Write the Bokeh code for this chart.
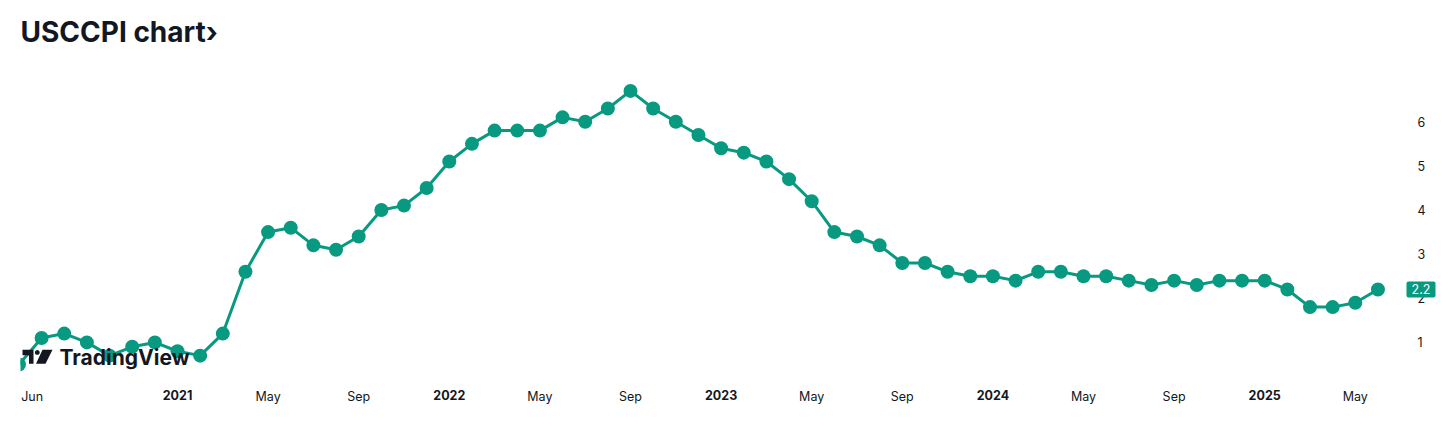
import math
from bokeh.plotting import figure
from bokeh.models import (Range1d, FixedTicker, Label, PolyAnnotation, BoxAnnotation,
                          LinearAxis)
from bokeh.embed import file_html
from bokeh.resources import INLINE

# ---------------- data ----------------
TITLE = "USCCPI chart\u203a"
months = ["2020-06", "2020-07", "2020-08", "2020-09", "2020-10", "2020-11", "2020-12",
          "2021-01", "2021-02", "2021-03", "2021-04", "2021-05", "2021-06", "2021-07",
          "2021-08", "2021-09", "2021-10", "2021-11", "2021-12", "2022-01", "2022-02",
          "2022-03", "2022-04", "2022-05", "2022-06", "2022-07", "2022-08", "2022-09",
          "2022-10", "2022-11", "2022-12", "2023-01", "2023-02", "2023-03", "2023-04",
          "2023-05", "2023-06", "2023-07", "2023-08", "2023-09", "2023-10", "2023-11",
          "2023-12", "2024-01", "2024-02", "2024-03", "2024-04", "2024-05", "2024-06",
          "2024-07", "2024-08", "2024-09", "2024-10", "2024-11", "2024-12", "2025-01",
          "2025-02", "2025-03", "2025-04", "2025-05", "2025-06"]
cpi_values = [0.5, 1.1, 1.2, 1.0, 0.7, 0.9, 1.0, 0.8, 0.7, 1.2,
              2.6, 3.5, 3.6, 3.2, 3.1, 3.4, 4.0, 4.1, 4.5, 5.1,
              5.5, 5.8, 5.8, 5.8, 6.1, 6.0, 6.3, 6.7, 6.3, 6.0,
              5.7, 5.4, 5.3, 5.1, 4.7, 4.2, 3.5, 3.4, 3.2, 2.8,
              2.8, 2.6, 2.5, 2.5, 2.4, 2.6, 2.6, 2.5, 2.5, 2.4,
              2.3, 2.4, 2.3, 2.4, 2.4, 2.4, 2.2, 1.8, 1.8, 1.9, 2.2]
x_tick_months = ["2020-06", "2021-01", "2021-05", "2021-09", "2022-01", "2022-05",
                 "2022-09", "2023-01", "2023-05", "2023-09", "2024-01", "2024-05",
                 "2024-09", "2025-01", "2025-05"]
x_tick_labels = ["Jun", "2021", "May", "Sep", "2022", "May", "Sep", "2023",
                 "May", "Sep", "2024", "May", "Sep", "2025", "May"]
y_ticks = [1, 2, 3, 4, 5, 6]

# monthly bars are equally spaced (bar index), as on the original chart
x_idx = list(range(len(months)))

# ---------------- layout / style ----------------
GREEN = "#089981"
TEXT = "#131722"
FONT = "Inter"
W, H = 1450, 420
FRAME_LEFT, FRAME_RIGHT, FRAME_TOP, FRAME_BOTTOM = 20, 1445, 60, 415
X0_PX, DX_PX = 18.45, 22.65      # pixel x of the first bar, pixels per bar
Y1_PX, DY_PX = 341.7, 44.25      # pixel y of value 1, pixels per unit
AXIS_Y_PX = 378                  # baseline of the time scale
PRICE_AXIS_X_PX = 1400           # left side of the price scale
FIRST_LABEL_SHIFT = 0.58         # first month label is pushed inside the pane


def xd(px):
    return (px - X0_PX) / DX_PX


def yd(py):
    return 1 + (Y1_PX - py) / DY_PX


p = figure(width=W, height=H, y_axis_location="right",
           x_range=Range1d(xd(FRAME_LEFT), xd(FRAME_RIGHT)),
           y_range=Range1d(yd(FRAME_BOTTOM), yd(FRAME_TOP)),
           output_backend="svg", toolbar_location=None,
           min_border_left=FRAME_LEFT, min_border_right=W - FRAME_RIGHT,
           min_border_top=FRAME_TOP, min_border_bottom=H - FRAME_BOTTOM,
           title=TITLE)
p.outline_line_color = None
p.grid.visible = False
p.background_fill_color = "white"
p.border_fill_color = "white"

p.title.text_font = FONT
p.title.text_font_size = "28px"
p.title.text_font_style = "bold"
p.title.text_color = TEXT
p.title.align = "left"
p.title.standoff = 25

p.line(x_idx, cpi_values, line_width=3, color=GREEN)
p.scatter(x_idx, cpi_values, size=14, fill_color=GREEN, line_color=None)


def style_axis(ax, standoff, bold=False):
    ax.axis_line_color = None
    ax.major_tick_line_color = None
    ax.minor_tick_line_color = None
    ax.major_tick_out = 0
    ax.major_tick_in = 0
    ax.major_label_standoff = standoff
    ax.major_label_text_font = FONT
    ax.major_label_text_font_size = "12.5px"
    ax.major_label_text_font_style = "bold" if bold else "normal"
    ax.major_label_text_color = TEXT


# time scale: month names (normal) and years (bold) on the same line
month_ticks, month_over, year_ticks, year_over = [], {}, [], {}
for m, lab in zip(x_tick_months, x_tick_labels):
    i = months.index(m)
    if lab.isdigit():
        year_ticks.append(i)
        year_over[i] = lab
    else:
        t = i + FIRST_LABEL_SHIFT if i == 0 else i
        month_ticks.append(t)
        month_over[t] = lab

xa = p.xaxis[0]
xa.ticker = FixedTicker(ticks=month_ticks)
xa.major_label_overrides = month_over
xa.fixed_location = yd(AXIS_Y_PX)
style_axis(xa, 10)

ya_x = LinearAxis(ticker=FixedTicker(ticks=year_ticks), major_label_overrides=year_over)
ya_x.fixed_location = yd(AXIS_Y_PX)
style_axis(ya_x, 11, bold=True)
p.add_layout(ya_x, "below")

# price scale on the right
ya = p.yaxis[0]
ya.ticker = FixedTicker(ticks=y_ticks)
ya.fixed_location = xd(PRICE_AXIS_X_PX)
style_axis(ya, 17)

# last value tag
last = cpi_values[-1]
p.add_layout(BoxAnnotation(left=xd(1406), right=xd(1435),
                           top=last + 8 / DY_PX, bottom=last - 8 / DY_PX,
                           fill_color=GREEN, fill_alpha=1.0, line_color=None,
                           border_radius=2))
p.add_layout(Label(x=xd(1420.5), y=last, text=f"{last:.1f}",
                   text_align="center", text_baseline="middle",
                   text_font=FONT, text_font_size="12.5px", text_color="white"))

# TradingView logo
def poly(pts):
    p.add_layout(PolyAnnotation(xs=[xd(a) for a, b in pts], ys=[yd(b) for a, b in pts],
                                fill_color=TEXT, fill_alpha=1.0, line_color=None))


poly([(22, 349), (33, 349), (33, 363), (28.5, 363), (28.5, 354.5), (22, 354.5)])
poly([(36.8 + 2.4 * math.cos(k * math.pi / 10), 351.8 + 2.4 * math.sin(k * math.pi / 10))
      for k in range(20)])
poly([(42, 349), (52, 349), (45, 363), (35.5, 363)])
p.add_layout(Label(x=xd(59), y=yd(357), text="TradingView",
                   text_align="left", text_baseline="middle",
                   text_font=FONT, text_font_size="21px", text_font_style="bold",
                   text_color=TEXT))

open("out.html", "w").write(file_html(p, INLINE))
